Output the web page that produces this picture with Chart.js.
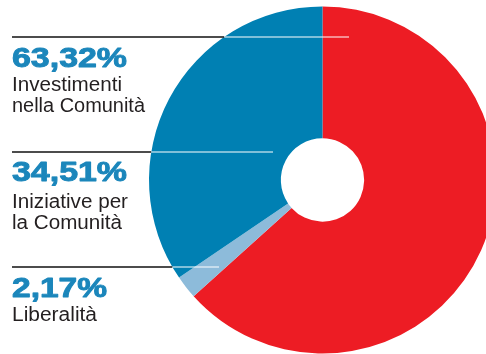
<!DOCTYPE html>
<html>
<head>
<meta charset="utf-8">
<script src="https://cdn.jsdelivr.net/npm/chart.js@4/dist/chart.umd.min.js"></script>
<style>
  html, body { margin: 0; padding: 0; background: #ffffff; overflow: hidden; }
  #wrap { position: relative; width: 486px; height: 354px; overflow: hidden; }
  #chart { position: absolute; left: 0; top: 0; }
</style>
</head>
<body>
<div id="wrap"><canvas id="chart" width="520" height="354"></canvas></div>
<script>
// Ripartizione dei contributi alla comunità (%)
const categories = ['Investimenti nella Comunità', 'Liberalità', 'Iniziative per la Comunità'];
const values = [63.32, 2.17, 34.51];
const sliceColors = ['#ED1C24', '#8DBBDA', '#0080B3'];

// Callout description lines, in the order they appear from top to bottom
const labelLines = [['Investimenti', 'nella Comunità'], ['Iniziative per', 'la Comunità'], ['Liberalità']];

const fmt = v => v.toFixed(2).replace('.', ',') + '%';

const callouts = [
  { idx: 0, lineY: 37, lineEnd: 349, valBase: 67, valW: 115, textBase: [91, 112], textW: [110, 133] },
  { idx: 2, lineY: 152, lineEnd: 273, valBase: 181, valW: 115, textBase: [208, 229], textW: [116, 110] },
  { idx: 1, lineY: 267, lineEnd: 219, valBase: 297, valW: 95, textBase: [321], textW: [85] }
];

function fitText(ctx, str, x, y, w, stroke) {
  const m = ctx.measureText(str).width;
  ctx.save();
  ctx.translate(x, y);
  ctx.scale(w / m, 1);
  ctx.fillText(str, 0, 0);
  if (stroke) ctx.strokeText(str, 0, 0);
  ctx.restore();
}

const calloutPlugin = {
  id: 'callouts',
  afterDatasetsDraw(chart) {
    const ctx = chart.ctx;
    const arc = chart.getDatasetMeta(0).data[0];
    const cx = arc.x, cy = arc.y, r = arc.outerRadius;
    ctx.save();
    callouts.forEach((c, i) => {
      const dy = c.lineY - cy;
      const edge = cx - Math.sqrt(Math.max(r * r - dy * dy, 0));
      // leader line: dark outside the ring, white across it
      ctx.lineWidth = 1.3;
      ctx.strokeStyle = '#111111';
      ctx.beginPath();
      ctx.moveTo(12, c.lineY);
      ctx.lineTo(edge, c.lineY);
      ctx.stroke();
      ctx.strokeStyle = '#ffffff';
      ctx.lineWidth = 1.2;
      ctx.beginPath();
      ctx.moveTo(edge, c.lineY);
      ctx.lineTo(c.lineEnd, c.lineY);
      ctx.stroke();

      ctx.textAlign = 'left';
      ctx.textBaseline = 'alphabetic';
      ctx.fillStyle = '#1B86BB';
      ctx.strokeStyle = '#1B86BB';
      ctx.lineWidth = 0.9;
      ctx.lineJoin = 'round';
      ctx.font = 'bold 27px "Liberation Sans", Arial, sans-serif';
      fitText(ctx, fmt(values[c.idx]), 12, c.valBase, c.valW, true);

      ctx.fillStyle = '#231F20';
      ctx.font = '19.5px "Liberation Sans Narrow", "Liberation Sans", Arial, sans-serif';
      labelLines[i].forEach((t, k) => fitText(ctx, t, 12, c.textBase[k], c.textW[k], false));
    });
    ctx.restore();
  }
};

new Chart(document.getElementById('chart'), {
  type: 'doughnut',
  data: {
    labels: categories,
    datasets: [{
      data: values,
      backgroundColor: sliceColors,
      borderWidth: 0,
      hoverOffset: 0
    }]
  },
  options: {
    responsive: false,
    animation: false,
    cutout: '24%',
    rotation: 0,
    layout: { padding: { left: 149, right: 24, top: 6.5, bottom: 0.5 } },
    plugins: {
      legend: { display: false },
      tooltip: { enabled: false }
    }
  },
  plugins: [calloutPlugin]
});
</script>
</body>
</html>
